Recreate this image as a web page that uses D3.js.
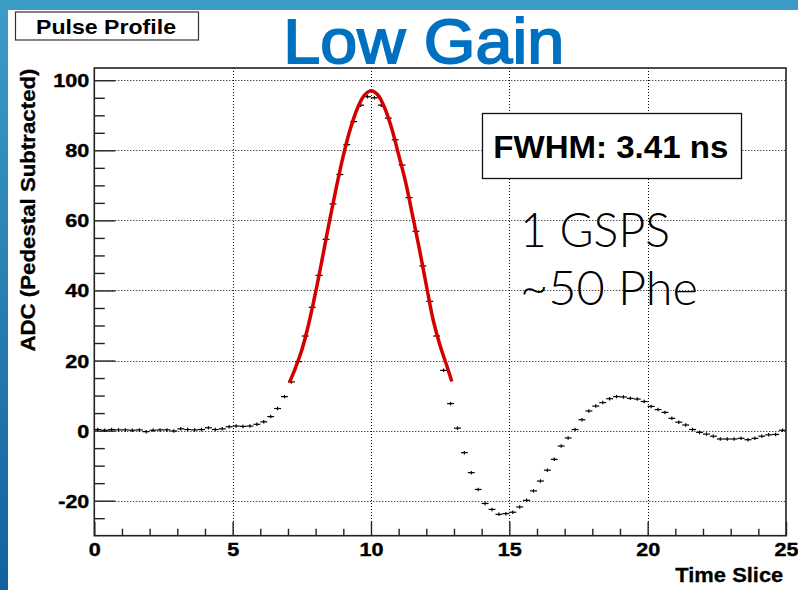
<!DOCTYPE html>
<html>
<head>
<meta charset="utf-8">
<script src="https://cdn.jsdelivr.net/npm/d3@7"></script>
<style>
  html, body { margin: 0; padding: 0; background: #fff; }
  svg { display: block; }
  text { font-family: "Liberation Sans", Arial, Helvetica, sans-serif; }
</style>
</head>
<body>
<svg id="chart" width="798" height="590"></svg>
<script>
// histogram: 100 bins of 0.25 time slices, ADC counts
const binWidth = 0.25;
const adcValues = [
  0.3, 0.1, 0.3, 0.2, 0.2, 0.1, 0.2, -0.3, 0.1, 0.2,
  0.2, -0.1, 0.5, 0.3, 0.2, 0.3, 0.8, 0.3, 0.5, 1.1,
  1.3, 1.2, 1.3, 1.8, 2.5, 4.0, 6.3, 9.7, 13.9, 19.7,
  27.0, 35.2, 44.3, 54.6, 64.7, 73.1, 81.6, 88.2, 92.9, 95.3,
  95.0, 92.9, 89.2, 83.0, 75.8, 66.5, 56.9, 47.0, 36.9, 27.0,
  17.2, 7.7, 0.7, -6.3, -12.0, -16.8, -20.8, -22.5, -23.9, -23.7,
  -23.3, -21.8, -19.9, -17.2, -14.4, -11.3, -8.2, -4.4, -2.1, 0.3,
  3.1, 5.6, 7.0, 8.0, 9.1, 9.7, 9.6, 9.2, 9.0, 8.3,
  6.9, 6.0, 5.2, 3.5, 2.4, 1.6, 0.3, -0.5, -1.0, -1.6,
  -2.4, -2.4, -2.4, -2.2, -2.6, -2.2, -1.6, -1.2, -1.1, 0.1
];
const adcError = 0.5;

// red fit curve
const fitTime = [7.05, 7.25, 7.5, 7.75, 8.0, 8.25, 8.5, 8.75, 9.0, 9.25, 9.5, 9.75, 10.0,
                 10.25, 10.5, 10.75, 11.0, 11.25, 11.5, 11.75, 12.0, 12.25, 12.5, 12.75, 12.92];
const fitValue = [13.7, 17.5, 23.0, 30.5, 39.5, 49.5, 59.8, 69.5, 78.5, 86.0, 91.8, 95.6, 97.0,
                  95.8, 92.0, 86.2, 78.7, 71.0, 61.5, 51.8, 41.5, 31.5, 24.2, 18.3, 14.0];

const xMajorTicks = [0, 5, 10, 15, 20, 25];
const yMajorTicks = [-20, 0, 20, 40, 60, 80, 100];

const titleText = "Low Gain";
const boxTitle = "Pulse Profile";
const fwhmText = "FWHM: 3.41 ns";
const noteLines = ["1 GSPS", "~50 Phe"];
const xTitle = "Time Slice";
const yTitle = "ADC (Pedestal Subtracted)";

const svg = d3.select("#chart");

// slide background
const grad = svg.append("defs").append("linearGradient")
    .attr("id", "sideGrad").attr("x1", 0).attr("y1", 0).attr("x2", 0).attr("y2", 1);
grad.append("stop").attr("offset", "0%").attr("stop-color", "#3d9cc7");
grad.append("stop").attr("offset", "100%").attr("stop-color", "#12629e");

svg.append("rect").attr("width", 798).attr("height", 590).attr("fill", "#fff");
svg.append("rect").attr("width", 798).attr("height", 10).attr("fill", "#3a9bc5");
svg.append("rect").attr("width", 8).attr("height", 590).attr("fill", "url(#sideGrad)");

// scales
const x = d3.scaleLinear().domain([0, 25]).range([94.3, 786]);
const y = d3.scaleLinear().domain([-30, 103.5]).range([535.7, 68]);

// grid
const grid = svg.append("g").attr("stroke", "#000").attr("stroke-width", 1)
    .attr("stroke-dasharray", "1,2").attr("fill", "none");
grid.selectAll(".gx").data(xMajorTicks.filter(d => d > 0 && d < 25)).enter().append("line")
    .attr("x1", d => Math.round(x(d)) + 0.5).attr("x2", d => Math.round(x(d)) + 0.5)
    .attr("y1", y.range()[1]).attr("y2", y.range()[0]);
grid.selectAll(".gy").data(yMajorTicks).enter().append("line")
    .attr("y1", d => Math.round(y(d)) + 0.5).attr("y2", d => Math.round(y(d)) + 0.5)
    .attr("x1", x.range()[0]).attr("x2", x.range()[1]);

// axes (ticks inside the frame, like ROOT)
function digitsLength(d) {
  const s = String(d);
  let n = 0;
  for (const c of s) n += (c === "-") ? 7 : 12;
  return n;
}

const yMinor = d3.range(-25, 101, 5).filter(d => d % 20 !== 0);
const xMinor = d3.range(1, 25).filter(d => d % 5 !== 0);

const yAxis = svg.append("g").attr("transform", "translate(" + x.range()[0] + ",0)")
    .call(d3.axisLeft(y).tickValues(yMajorTicks).tickSize(-21).tickPadding(5).tickFormat(d => String(d)));
svg.append("g").attr("transform", "translate(" + x.range()[0] + ",0)")
    .call(d3.axisLeft(y).tickValues(yMinor).tickSize(-10.5).tickFormat(""));

const xAxis = svg.append("g").attr("transform", "translate(0," + y.range()[0] + ")")
    .call(d3.axisBottom(x).tickValues(xMajorTicks).tickSize(-14).tickPadding(8).tickFormat(d => String(d)));
svg.append("g").attr("transform", "translate(0," + y.range()[0] + ")")
    .call(d3.axisBottom(x).tickValues(xMinor).tickSize(-7).tickFormat(""));

svg.selectAll(".domain").remove();
svg.selectAll(".tick line").attr("stroke", "#222").attr("stroke-width", 1.4);
svg.selectAll(".tick text")
    .attr("fill", "#000")
    .attr("stroke", "#000").attr("stroke-width", 0.4)
    .style("font-size", "18px").style("font-weight", "bold")
    .attr("font-family", null)
    .attr("lengthAdjust", "spacingAndGlyphs")
    .attr("textLength", d => digitsLength(d));
yAxis.selectAll(".tick text").attr("dy", "0.36em");

// histogram marks: bin-wide bar + vertical error bar
const marks = svg.append("g").attr("stroke", "#000").attr("stroke-width", 1.2);
adcValues.forEach(function(v, i) {
  const t0 = i * binWidth, t1 = t0 + binWidth, tc = t0 + binWidth / 2;
  marks.append("line")
      .attr("x1", x(t0)).attr("x2", x(t1))
      .attr("y1", y(v)).attr("y2", y(v));
  marks.append("line")
      .attr("x1", x(tc)).attr("x2", x(tc))
      .attr("y1", y(v - adcError)).attr("y2", y(v + adcError));
});

// fit curve
const fitLine = d3.line()
    .x((d, i) => x(fitTime[i]))
    .y(d => y(d))
    .curve(d3.curveCatmullRom);
svg.append("path")
    .attr("d", fitLine(fitValue))
    .attr("fill", "none")
    .attr("stroke", "#d40000")
    .attr("stroke-width", 3.5)
    .attr("stroke-linejoin", "round");

// frame
svg.append("rect")
    .attr("x", x.range()[0]).attr("y", y.range()[1])
    .attr("width", x.range()[1] - x.range()[0])
    .attr("height", y.range()[0] - y.range()[1])
    .attr("fill", "none").attr("stroke", "#222").attr("stroke-width", 1.6);

// axis titles
svg.append("text")
    .attr("x", 783.3).attr("y", 581.7)
    .attr("text-anchor", "end")
    .attr("stroke", "#000").attr("stroke-width", 0.3)
    .style("font-size", "21px").style("font-weight", "bold")
    .attr("lengthAdjust", "spacingAndGlyphs").attr("textLength", 108)
    .text(xTitle);

svg.append("text")
    .attr("transform", "translate(35,68.5) rotate(-90)")
    .attr("text-anchor", "end")
    .attr("stroke", "#000").attr("stroke-width", 0.3)
    .style("font-size", "20px").style("font-weight", "bold")
    .attr("lengthAdjust", "spacingAndGlyphs").attr("textLength", 283)
    .text(yTitle);

// "Pulse Profile" box
svg.append("rect")
    .attr("x", 15.5).attr("y", 12).attr("width", 183).attr("height", 28)
    .attr("fill", "#fff").attr("stroke", "#333").attr("stroke-width", 1.2);
svg.append("text")
    .attr("x", 36).attr("y", 34.3)
    .style("font-size", "21px").style("font-weight", "bold")
    .attr("lengthAdjust", "spacingAndGlyphs").attr("textLength", 140)
    .text(boxTitle);

// slide title
svg.append("text")
    .attr("x", 283.3).attr("y", 63.3)
    .attr("fill", "#0070c0")
    .attr("stroke", "#0070c0").attr("stroke-width", 1.8)
    .style("font-size", "63px")
    .attr("lengthAdjust", "spacingAndGlyphs").attr("textLength", 281)
    .text(titleText);

// FWHM box
svg.append("rect")
    .attr("x", 482.5).attr("y", 113.5).attr("width", 259).attr("height", 65)
    .attr("fill", "#fff").attr("stroke", "#111").attr("stroke-width", 1.3);
svg.append("text")
    .attr("x", 493.3).attr("y", 158.3)
    .style("font-size", "32px").style("font-weight", "bold")
    .attr("lengthAdjust", "spacingAndGlyphs").attr("textLength", 235)
    .text(fwhmText);

// note text
const noteLen = [150, 178];
const noteY = [246.7, 305];
noteLines.forEach(function(s, i) {
  svg.append("text")
      .attr("x", 520).attr("y", noteY[i])
      .style("font-family", "Lato, 'Open Sans', sans-serif")
      .style("font-size", "47px").style("font-weight", 300)
      .attr("lengthAdjust", "spacingAndGlyphs").attr("textLength", noteLen[i])
      .text(s);
});
</script>
</body>
</html>
